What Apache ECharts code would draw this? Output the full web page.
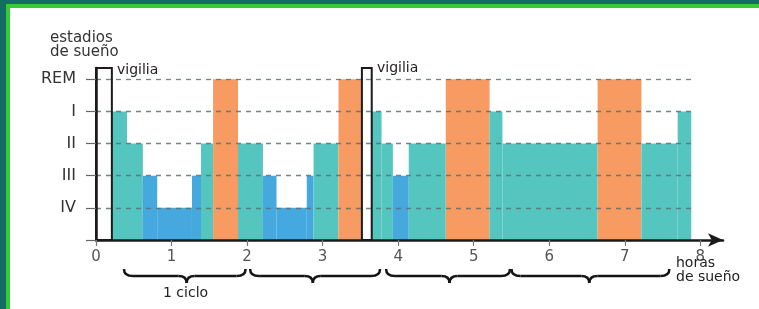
<!DOCTYPE html>
<html>
<head>
<meta charset="utf-8">
<script src="https://cdn.jsdelivr.net/npm/echarts@6/dist/echarts.min.js"></script>
<style>
html,body{margin:0;padding:0;background:#fff}
#main{width:759px;height:309px}
</style>
</head>
<body>
<div id="main"></div>
<script>
// nombres de los estadios en el eje y (nivel 1..5)
var nombresEstadio = ['', 'IV', 'III', 'II', 'I', 'REM'];
var nivelVigilia = 5.35;
// horas del eje x
var horas = [0, 1, 2, 3, 4, 5, 6, 7, 8];
// limites de cada tramo (horas) y estadio de cada tramo
var limites = [0, 0.21, 0.41, 0.62, 0.81, 1.27, 1.39, 1.55, 1.88, 2.21, 2.39, 2.79, 2.88, 3.21, 3.52,
               3.65, 3.78, 3.93, 4.14, 4.63, 5.21, 5.38, 6.64, 7.22, 7.70, 7.88];
var estadios = ['vigilia', 'I', 'II', 'III', 'IV', 'III', 'II', 'REM', 'II', 'III', 'IV', 'III', 'II', 'REM',
                'vigilia', 'I', 'II', 'III', 'II', 'REM', 'I', 'II', 'REM', 'II', 'I'];
// llaves de los ciclos: inicio, centro, fin (horas)
var ciclos = [[0.37, 1.2, 1.98], [2.04, 2.87, 3.76], [3.84, 4.68, 5.48], [5.5, 6.53, 7.59]];

var colores = {REM: '#f79b63', I: '#55c5c0', II: '#55c5c0', III: '#45a8df', IV: '#45a8df'};
var fuente = 'DejaVu Sans';

var datos = [];
for (var i = 0; i < estadios.length; i++) {
  var e = estadios[i];
  var nivel = e == 'vigilia' ? nivelVigilia : nombresEstadio.indexOf(e);
  datos.push({value: [limites[i], limites[i + 1], nivel], estadio: e});
}

var myChart = echarts.init(document.getElementById('main'));

function dibujaTramo(params, api) {
  var p0 = api.coord([api.value(0), api.value(2)]);
  var p1 = api.coord([api.value(1), 0]);
  var r = {x: p0[0], y: p0[1], width: p1[0] - p0[0], height: p1[1] - p0[1]};
  var e = datos[params.dataIndex].estadio;
  if (e == 'vigilia') {
    return {type: 'rect', shape: r, z2: 10, style: {fill: '#fff', stroke: '#1c1c1c', lineWidth: 2}};
  }
  return {type: 'rect', shape: r, style: {fill: colores[e]}};
}

var lineas = [];
for (var n = 1; n <= 5; n++) {
  lineas.push([{coord: [0, n]}, {coord: [7.9, n]}]);
}

var option = {
  animation: false,
  backgroundColor: '#fff',
  grid: {left: 96, right: 36, top: 68, bottom: 69},
  xAxis: {
    type: 'value', min: 0, max: 8.3, interval: 1, z: 5,
    axisLine: {show: true, symbol: ['none', 'arrow'], symbolSize: [10, 15],
      lineStyle: {color: '#1a1a1a', width: 2.5}},
    axisTick: {show: true, length: 6, customValues: horas, lineStyle: {color: '#777', width: 1.2}},
    axisLabel: {customValues: horas, margin: 10, color: '#555', fontSize: 15, fontFamily: fuente},
    splitLine: {show: false}
  },
  yAxis: {
    type: 'value', min: 0, max: nivelVigilia, interval: 1, z: 5,
    axisLine: {show: true, lineStyle: {color: '#1a1a1a', width: 2.5}},
    axisTick: {show: true, length: 10, customValues: [0, 1, 2, 3, 4, 5], lineStyle: {color: '#666', width: 1.2}},
    axisLabel: {customValues: [1, 2, 3, 4, 5], margin: 20, color: '#333', fontSize: 16, fontFamily: fuente,
      formatter: function (v) { return nombresEstadio[Math.round(v)]; }},
    splitLine: {show: false}
  },
  series: [{
    type: 'custom',
    renderItem: dibujaTramo,
    encode: {x: [0, 1], y: 2},
    data: datos,
    z: 2,
    markLine: {
      silent: true, symbol: ['none', 'none'], label: {show: false}, z: 4,
      lineStyle: {type: [5, 5], color: '#5f6f6f', width: 1.3, opacity: 0.85},
      data: lineas
    }
  }]
};
myChart.setOption(option);

// marco, textos y llaves
var g = [
  {type: 'rect', shape: {x: 0, y: 0, width: 759, height: 4}, style: {fill: '#156b68'}, z: 20},
  {type: 'rect', shape: {x: 0, y: 0, width: 6, height: 309}, style: {fill: '#156b68'}, z: 20},
  {type: 'rect', shape: {x: 6, y: 4, width: 753, height: 4}, style: {fill: '#33cc33'}, z: 20},
  {type: 'rect', shape: {x: 6, y: 4, width: 4, height: 305}, style: {fill: '#33cc33'}, z: 20},
  {type: 'text', x: 50, y: 31, z: 20, style: {text: 'estadios\nde sueño', fill: '#333', font: '15px "DejaVu Sans"', lineHeight: 14}},
  {type: 'text', x: 117, y: 63, z: 20, style: {text: 'vigilia', fill: '#222', font: '14px "DejaVu Sans"'}},
  {type: 'text', x: 377, y: 61, z: 20, style: {text: 'vigilia', fill: '#222', font: '14px "DejaVu Sans"'}},
  {type: 'text', x: 676, y: 256, z: 20, style: {text: 'horas\nde sueño', fill: '#222', font: '14px "DejaVu Sans"', lineHeight: 14}},
  {type: 'text', x: 163, y: 286, z: 20, style: {text: '1 ciclo', fill: '#222', font: '14px "DejaVu Sans"'}}
];
var yl = 276, ye = 269, yp = 283;
var trazo = {stroke: '#151515', lineWidth: 2.5, fill: null};
ciclos.forEach(function (c) {
  var a = myChart.convertToPixel({gridIndex: 0}, [c[0], 0])[0];
  var m = myChart.convertToPixel({gridIndex: 0}, [c[1], 0])[0];
  var b = myChart.convertToPixel({gridIndex: 0}, [c[2], 0])[0];
  g.push({type: 'bezierCurve', z: 20, shape: {x1: a, y1: ye, cpx1: a, cpy1: yl, x2: a + 9, y2: yl}, style: trazo});
  g.push({type: 'line', z: 20, shape: {x1: a + 9, y1: yl, x2: m - 8, y2: yl}, style: trazo});
  g.push({type: 'bezierCurve', z: 20, shape: {x1: m - 8, y1: yl, cpx1: m, cpy1: yl, x2: m, y2: yp}, style: trazo});
  g.push({type: 'bezierCurve', z: 20, shape: {x1: m, y1: yp, cpx1: m, cpy1: yl, x2: m + 8, y2: yl}, style: trazo});
  g.push({type: 'line', z: 20, shape: {x1: m + 8, y1: yl, x2: b - 9, y2: yl}, style: trazo});
  g.push({type: 'bezierCurve', z: 20, shape: {x1: b - 9, y1: yl, cpx1: b, cpy1: yl, x2: b, y2: ye}, style: trazo});
});
myChart.setOption({graphic: g});
</script>
</body>
</html>
